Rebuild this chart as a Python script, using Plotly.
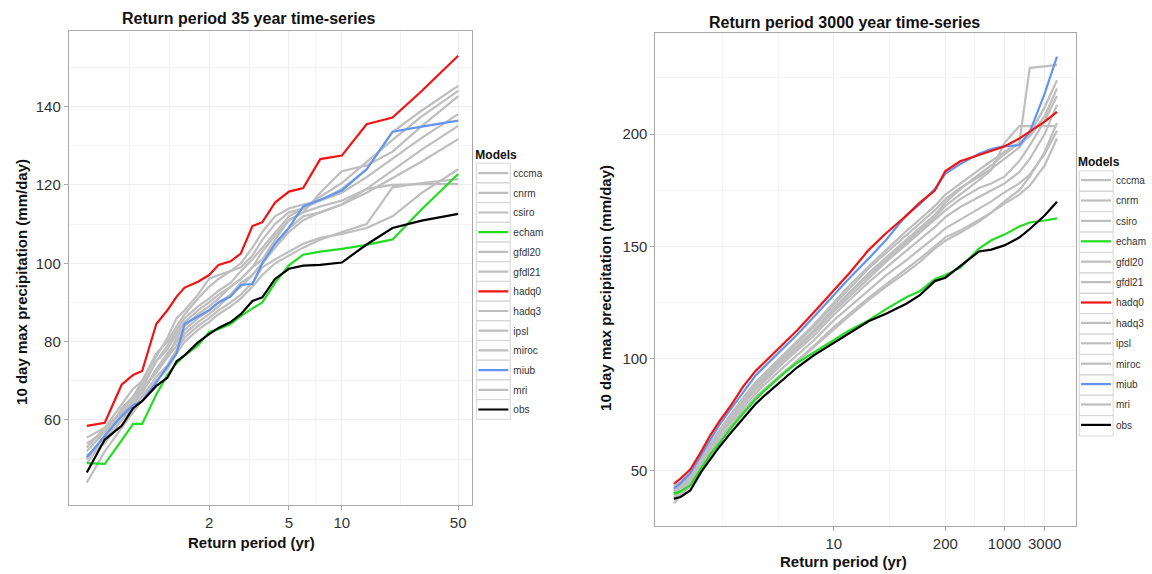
import numpy as np
import plotly.graph_objects as go

# ---------------- data ----------------
models = ["cccma", "cnrm", "csiro", "echam", "gfdl20", "gfdl21", "hadq0",
          "hadq3", "ipsl", "miroc", "miub", "mri", "obs"]

# Left panel: return periods (yr) and 10-day max precipitation (mm/day)
T_left = [1.02, 1.05, 1.1, 1.15, 1.2, 1.3, 1.4, 1.5, 1.6, 1.8, 2.0, 2.2, 2.5,
          2.8, 3.2, 3.6, 4.2, 5, 6, 7.5, 10, 14, 20, 30, 50]
left_cccma = [53, 58, 64, 68, 70, 77, 80, 84, 87, 91, 94, 96, 98, 99, 102, 106, 110, 113, 114, 116, 119, 124, 133.5, 139, 145.3]
left_cnrm = [50, 56, 63, 66, 68, 75, 79, 83, 86, 89, 91, 93, 95, 98, 101, 104, 108, 112, 114, 117, 120.5, 126, 131.5, 137.5, 144]
left_csiro = [52, 57, 62, 66, 69, 75, 78, 82, 85, 88, 90, 92, 94, 96, 99, 103, 107, 111, 113, 118, 123.5, 125, 128.5, 135, 142.7]
left_echam = [49, 48.8, 54.8, 59, 59, 66.5, 71.5, 74.5, 76.5, 79, 82.5, 83.2, 84.5, 86.5, 88.5, 90, 95, 99.5, 102.2, 103, 103.7, 104.7, 106.1, 113.8, 122.8]
left_gfdl20 = [55.5, 58, 62, 66, 70, 76, 81, 86, 88, 92, 96, 97, 98, 100, 104, 108, 112, 114, 115, 116, 118, 122, 126.8, 132, 138.1]
left_gfdl21 = [49, 55, 60, 64, 67, 73, 76, 81, 84, 87, 89, 91, 94, 96, 99, 101, 106, 111, 113, 114.5, 116, 119, 123.7, 129, 135.1]
left_hadq0 = [58.5, 59.3, 69, 71.5, 72.5, 84.5, 88, 91.5, 93.8, 95.3, 97, 99.6, 100.5, 102.5, 109.5, 110.5, 115.5, 118.3, 119.2, 126.6, 127.5, 135.5, 137.2, 144, 153]
left_hadq3 = [54, 57, 61, 65, 67, 73, 77, 80, 83, 86, 88, 90, 92, 95, 97, 100, 104, 109, 112, 113, 115, 118, 121.7, 126, 131.7]
left_ipsl = [51, 54, 60, 63, 66, 71, 74, 78, 81, 84, 86, 88, 90, 92, 95, 99, 101, 103, 105, 106.5, 107.5, 109, 112, 118, 124]
left_miroc = [44, 52, 58, 62, 65, 70, 73, 77, 80, 83, 85, 87, 89, 91, 94, 97, 100, 102, 104, 106, 108, 110, 119.4, 120.5, 121.5]
left_miub = [50.5, 56, 61, 63.8, 64.8, 69.6, 73.5, 77, 84.5, 86.5, 88, 90, 91.5, 94.5, 94.7, 100, 105, 109.1, 114.5, 116.2, 118.6, 124, 133.6, 134.9, 136.4]
left_mri = [50, 56, 61, 65, 68, 72, 76, 79, 82, 85, 87, 89, 92, 94, 97, 100, 104, 108, 111, 113, 115, 119, 120, 120.2, 120.2]
left_obs = [46.6, 55, 58.5, 63, 64.8, 68.7, 70.8, 75, 76.5, 79.8, 81.9, 83.5, 85, 87, 90.4, 91.3, 96, 98.6, 99.4, 99.6, 100.2, 104.8, 109, 110.9, 112.6]

# Right panel
T_right = [1.00025, 1.001, 1.005, 1.02, 1.05, 1.1, 1.2, 1.4, 1.7, 2, 3, 4, 6, 10,
           15, 25, 40, 70, 100, 150, 200, 300, 500, 700, 1000, 1500, 2000, 3000, 4200]
right_cccma = [43, 45, 48.5, 55.5, 62, 68, 74.5, 82.5, 89.5, 93.5, 102, 107.5, 115, 125, 132.5, 141, 148.5, 157, 162, 168, 173, 178, 184, 188, 192, 196, 229.5, 230.2, 230.8]
right_cnrm = [41, 44, 48, 55, 62, 68, 74.5, 82, 89, 93, 101.5, 107, 114, 124, 131, 140, 147, 155, 160, 166, 171, 176, 181, 184.5, 189, 194, 200, 212, 224]
right_csiro = [42, 44.5, 48.5, 55, 61.5, 67.5, 73.5, 81.5, 88, 92, 100.5, 105.5, 112.5, 122.5, 129.5, 138, 145, 153, 158, 164, 169.5, 175.5, 182, 186, 191, 196, 199, 208, 220.3]
right_echam = [39.8, 40.8, 43.5, 51, 57.5, 62.2, 68.5, 75.5, 82, 85.8, 93.6, 98, 102.7, 108, 112.5, 117, 122, 127.4, 130, 135.3, 137.2, 140.5, 149, 152.7, 155.2, 158.8, 160.6, 161.5, 162.4]
right_gfdl20 = [40, 43, 47, 54, 60.5, 66.5, 72.5, 80.5, 87, 91, 99.5, 104.5, 111.5, 121, 127.5, 136, 143, 151, 156, 162, 166, 171, 176, 178, 181, 188, 195, 206, 217]
right_gfdl21 = [39, 42, 46, 53, 59.5, 65.5, 71.5, 79.5, 86, 90, 98.5, 103.5, 110, 119.5, 126, 134, 140.5, 148, 153, 158.5, 163, 167.5, 172, 175, 178, 183, 189, 200, 213]
right_hadq0 = [44.2, 46.5, 50.5, 58.5, 66, 72, 78.5, 87.5, 94.5, 98.5, 107, 112.5, 120.5, 130.4, 138, 148.3, 155.8, 163.8, 169.5, 174.8, 183.5, 187.9, 190.7, 192.5, 194.5, 198, 201, 205.5, 209.9]
right_hadq3 = [41, 43.5, 47.5, 54.5, 61, 67, 73, 81, 87.5, 91.5, 100, 105, 112, 122, 129, 137, 144, 152, 157, 163, 168, 173, 179.5, 184, 196, 203.5, 203.5, 203.5, 203.5]
right_ipsl = [38, 41, 45, 52, 58, 64, 70, 78, 84.5, 88.5, 96.5, 101.5, 108, 117, 123, 130.5, 137, 144, 148.5, 154, 158, 162, 167, 170, 174, 178, 182, 191, 201.5]
right_miroc = [37, 40, 44, 51, 57, 63, 69, 76.5, 83, 86.5, 94.5, 99, 105.5, 114, 120, 127, 133, 140, 144.5, 150, 154, 157, 162, 165, 169, 173, 177, 186, 198]
right_miub = [42, 44.5, 49, 57, 64, 70.4, 77, 85, 92.5, 96.5, 105, 110.6, 118.5, 128.2, 135.8, 144.5, 152.8, 164, 168.8, 175.5, 182.4, 186.6, 191.2, 193.3, 194.6, 195, 201, 218, 234.5]
right_mri = [35.5, 39, 43, 50.5, 56.5, 62.5, 68.5, 76, 82, 86, 94, 98.5, 105, 113, 119, 126, 132, 138.5, 143, 149, 152.5, 156, 161, 165, 170, 175, 181, 192, 205]
right_obs = [37.5, 38.3, 41.2, 49.5, 55.3, 60.6, 66.5, 73.5, 79.8, 83.6, 91.4, 96, 101.4, 107, 111.1, 116.6, 119.9, 124.5, 128.2, 134.5, 136, 141, 147.7, 148.5, 150.4, 153.9, 157.7, 163.7, 169.8]

left_ticks = [2, 5, 10, 50]
right_ticks = [10, 200, 1000, 3000]
left_yticks = [60, 80, 100, 120, 140]
right_yticks = [50, 100, 150, 200]

left_data = dict(cccma=left_cccma, cnrm=left_cnrm, csiro=left_csiro, echam=left_echam,
                 gfdl20=left_gfdl20, gfdl21=left_gfdl21, hadq0=left_hadq0, hadq3=left_hadq3,
                 ipsl=left_ipsl, miroc=left_miroc, miub=left_miub, mri=left_mri, obs=left_obs)
right_data = dict(cccma=right_cccma, cnrm=right_cnrm, csiro=right_csiro, echam=right_echam,
                  gfdl20=right_gfdl20, gfdl21=right_gfdl21, hadq0=right_hadq0, hadq3=right_hadq3,
                  ipsl=right_ipsl, miroc=right_miroc, miub=right_miub, mri=right_mri, obs=right_obs)

# ---------------- style ----------------
GRAY = "#BEBEBE"
colors = {m: GRAY for m in models}
colors.update(echam="#22DD22", hadq0="#F01414", miub="#6495ED", obs="#000000")
FONT = "Liberation Sans, Arial, Helvetica, sans-serif"
W, H = 1152, 574


def gumbel(T):
    T = np.asarray(T, dtype=float)
    return -np.log(-np.log(1.0 - 1.0 / T))


def px_x(p):
    return p / W


def px_y(p):
    return 1 - p / H


fig = go.Figure()

draw_order = [m for m in models if colors[m] == GRAY] + ["echam", "miub", "hadq0", "obs"]
for T, data, xa, ya, leg in [(T_left, left_data, "x", "y", "legend"),
                             (T_right, right_data, "x2", "y2", "legend2")]:
    xg = gumbel(T)
    for m in draw_order:
        fig.add_trace(go.Scatter(
            x=xg, y=data[m], mode="lines", name=m, xaxis=xa, yaxis=ya,
            line=dict(color=colors[m], width=2.2), legend=leg,
            legendgroup=leg + m, legendrank=models.index(m) + 1, showlegend=True))

axis_common = dict(showline=True, mirror=True, linecolor="#A8A8A8", linewidth=1,
                   ticks="outside", ticklen=4, tickcolor="#A8A8A8",
                   showgrid=True, gridcolor="#EDEDED", gridwidth=1, zeroline=False,
                   tickfont=dict(family=FONT, size=15, color="#333333"))

g = lambda t: float(gumbel(t))
minor_left_x = [-0.76, 0.5 * (-0.76 + g(2)), 0.5 * (g(2) + g(5)),
                0.5 * (g(5) + g(10)), 0.5 * (g(10) + g(50))]
minor_right_x = [-0.788, 0.731, 0.5 * (g(10) + g(200)),
                 0.5 * (g(200) + g(1000)), 0.5 * (g(1000) + g(3000))]

legend_common = dict(xanchor="left", yanchor="top", bgcolor="rgba(255,255,255,0)",
                     itemwidth=30, itemclick=False, itemdoubleclick=False)

LEG_L = dict(x=475, y=143, first=173, step=19.7)
LEG_R = dict(x=1080, y=150, first=181, step=20.4)

fig.update_layout(
    width=W, height=H, margin=dict(l=0, r=0, t=0, b=0),
    paper_bgcolor="white", plot_bgcolor="white", hovermode=False,
    font=dict(family=FONT, color="#333333"),
    xaxis=dict(domain=[px_x(69), px_x(474)], range=[-1.625, 4.103],
               tickvals=gumbel(left_ticks).tolist(), ticktext=[str(t) for t in left_ticks],
               minor=dict(tickvals=minor_left_x, showgrid=True, gridcolor="#F4F4F4", ticklen=0),
               anchor="y", **axis_common),
    yaxis=dict(domain=[px_y(505), px_y(31)], range=[38.3, 159.3], tickvals=left_yticks,
               minor=dict(tickvals=[50, 70, 90, 110, 130, 150], showgrid=True,
                          gridcolor="#F4F4F4", ticklen=0),
               anchor="x", **axis_common),
    xaxis2=dict(domain=[px_x(657.7), px_x(1079.3)], range=[-2.619, 8.850],
                tickvals=gumbel(right_ticks).tolist(), ticktext=[str(t) for t in right_ticks],
                minor=dict(tickvals=minor_right_x, showgrid=True, gridcolor="#F4F4F4", ticklen=0),
                anchor="y2", **axis_common),
    yaxis2=dict(domain=[px_y(525.5), px_y(33.3)], range=[25.6, 244.9], tickvals=right_yticks,
                minor=dict(tickvals=[75, 125, 175, 225], showgrid=True,
                           gridcolor="#F4F4F4", ticklen=0),
                anchor="x2", **axis_common),
    legend=dict(x=px_x(LEG_L["x"]), y=px_y(LEG_L["y"]),
                title=dict(text="<b>Models</b>", font=dict(family=FONT, size=12, color="#111111")),
                font=dict(family=FONT, size=10, color="#333333"), tracegroupgap=0.7,
                **legend_common),
    legend2=dict(x=px_x(LEG_R["x"]), y=px_y(LEG_R["y"]),
                 title=dict(text="<b>Models</b>", font=dict(family=FONT, size=12, color="#111111")),
                 font=dict(family=FONT, size=10, color="#333333"), tracegroupgap=1.4,
                 **legend_common),
    showlegend=True,
)

# legend key boxes (ggplot-style key borders)
for leg in (LEG_L, LEG_R):
    for i in range(len(models)):
        cy = leg["first"] + leg["step"] * i
        fig.add_shape(type="rect", xref="paper", yref="paper", layer="below",
                      x0=px_x(leg["x"] + 3), x1=px_x(leg["x"] + 37),
                      y0=px_y(cy - leg["step"] / 2), y1=px_y(cy + leg["step"] / 2),
                      line=dict(color="#D6D6D6", width=1), fillcolor="rgba(0,0,0,0)")

ann = [
    dict(text="<b>Return period 35 year time-series</b>", x=250, y=19, size=16, angle=0),
    dict(text="<b>Return period 3000 year time-series</b>", x=847, y=22, size=16, angle=0),
    dict(text="<b>Return period (yr)</b>", x=252, y=542, size=15, angle=0),
    dict(text="<b>Return period (yr)</b>", x=846, y=561, size=15, angle=0),
    dict(text="<b>10 day max precipitation (mm/day)</b>", x=21, y=282, size=15, angle=-90),
    dict(text="<b>10 day max precipitation (mm/day)</b>", x=607, y=288, size=15, angle=-90),
]
for a in ann:
    fig.add_annotation(text=a["text"], x=px_x(a["x"]), y=px_y(a["y"]), xref="paper", yref="paper",
                       showarrow=False, xanchor="center", yanchor="middle", textangle=a["angle"],
                       font=dict(family=FONT, size=a["size"], color="#111111"))

fig.write_html("out.html", config={"displayModeBar": False, "staticPlot": True},
               post_script="document.body.style.margin='0';document.body.style.overflow='hidden';")
